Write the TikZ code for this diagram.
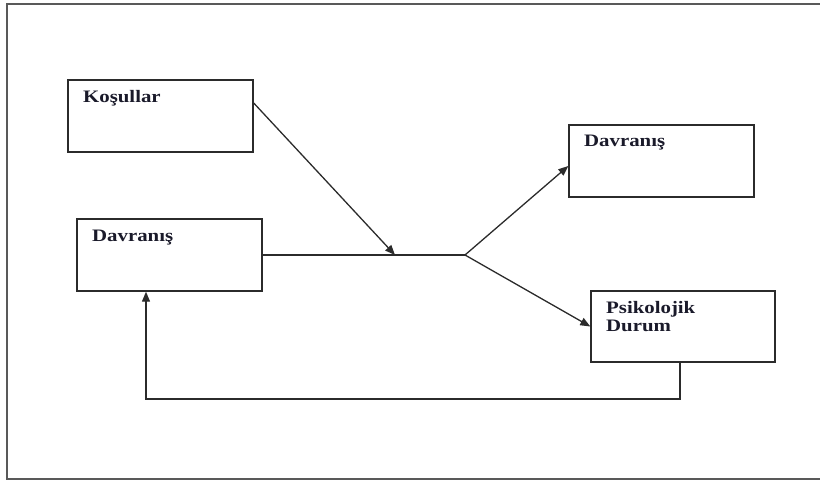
\documentclass[tikz,border=0pt]{standalone}
\usepackage{fontspec}
\setmainfont{Liberation Serif}
\usetikzlibrary{arrows.meta,calc}
\definecolor{ink}{HTML}{2B2B2B}
\definecolor{txt}{HTML}{1A1A2A}
\tikzset{
  box/.style={draw=ink, line width=1.4pt, rectangle, inner sep=0pt},
  lbl/.style={anchor=base west, inner sep=0pt, text=txt,
    font=\fontsize{17.5}{19}\selectfont\bfseries},
  link/.style={draw=ink, line width=1.3pt},
  arr/.style={link, -{Triangle[length=10pt,width=8pt]}},
}
\newcommand{\wide}[1]{\scalebox{1.19}[1]{#1}}
\begin{document}
\begin{tikzpicture}[x=1pt,y=-1pt]
  \useasboundingbox (0,0) rectangle (820,481);
  % outer frame
  \draw[draw=gray!70!black, line width=1.4pt] (822,4) -- (7,4) -- (7,479) -- (822,479);

  % boxes
  \node[box, minimum width=185pt, minimum height=72pt] (kos) at (160.5,116) {};
  \node[box, minimum width=185pt, minimum height=72pt] (dav1) at (169.5,255) {};
  \node[box, minimum width=185pt, minimum height=72pt] (dav2) at (661.5,161) {};
  \node[box, minimum width=184pt, minimum height=71pt] (psi) at (683,326.5) {};

  % labels
  \node[lbl] (tkos) at (83,103) {\wide{Koşullar}};
  \node[lbl] (tdav1) at (92,242) {\wide{Davranış}};
  \node[lbl] (tdav2) at (584,147) {\wide{Davranış}};
  \node[lbl] (tpsi1) at (606,313) {\wide{Psikolojik}};
  \node[lbl] (tpsi2) at (606,332) {\wide{Durum}};

  % connectors
  \coordinate (kout) at (kos.east |- 0,103);
  \coordinate (hit) at (395,255);
  \coordinate (junc) at (465,255);
  \draw[arr] (kout) -- (hit);
  \draw[link] (dav1.east) -- (junc);
  \draw[arr] (junc) -- ($(dav2.west)+(0,5)$);
  \draw[arr] (junc) -- (psi.west);

  % feedback loop
  \coordinate (fbR) at (680,399);
  \coordinate (fbL) at (146,399);
  \draw[arr] (psi.south -| fbR) -- (fbR) -- (fbL) -- (fbL |- dav1.south);
\end{tikzpicture}
\end{document}
